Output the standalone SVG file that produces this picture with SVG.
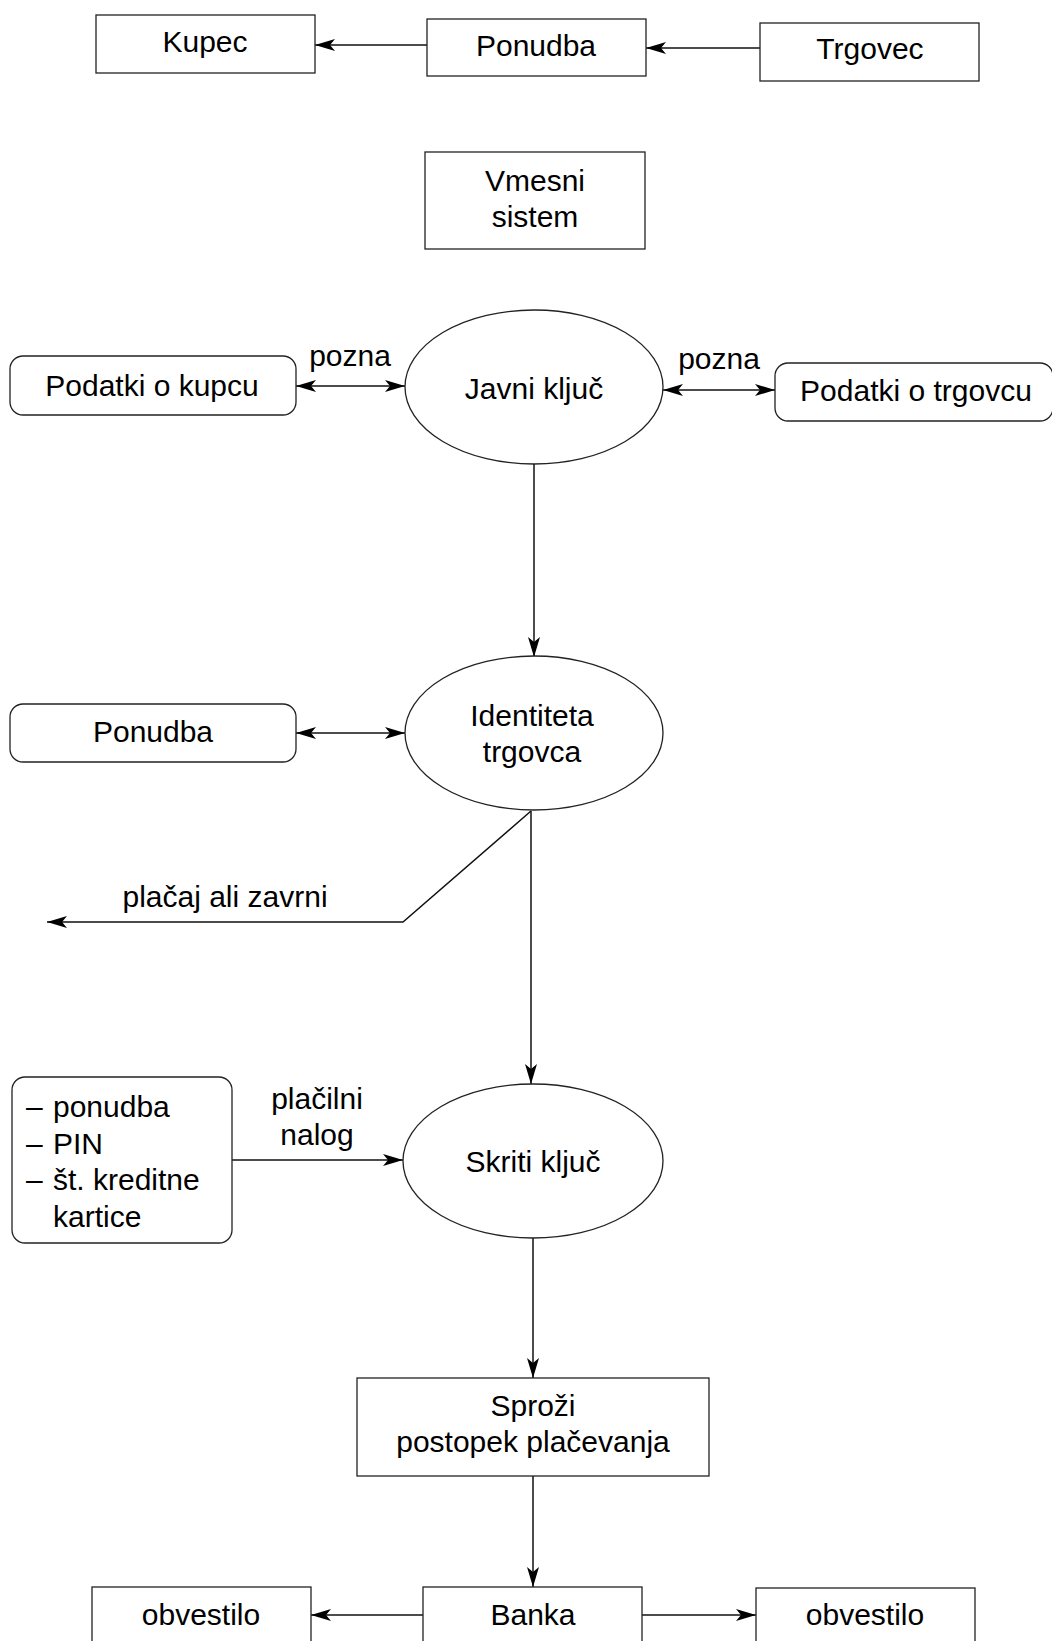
<svg xmlns="http://www.w3.org/2000/svg" width="1052" height="1641" viewBox="0 0 1052 1641">
<style>
.b{fill:#fff;stroke:#222;stroke-width:1.3}
.c{fill:none;stroke:#111;stroke-width:1.5}
text{font-family:"Liberation Sans",Arial,sans-serif;font-size:30px;fill:#000;text-anchor:middle}
.l{text-anchor:start}
</style>
<defs>
<marker id="a" viewBox="0 0 20 12" refX="20" refY="6" markerWidth="20" markerHeight="12" markerUnits="userSpaceOnUse" orient="auto-start-reverse">
<path d="M0,0 L20,6 L0,12 L5,6 z" fill="#000"/>
</marker>
</defs>
<rect width="1052" height="1641" fill="#fff"/>
<g id="connectors">
<line class="c" x1="427" y1="45" x2="315" y2="45" marker-end="url(#a)"/>
<line class="c" x1="760" y1="48" x2="646" y2="48" marker-end="url(#a)"/>
<line class="c" x1="296" y1="386" x2="405" y2="386" marker-start="url(#a)" marker-end="url(#a)"/>
<line class="c" x1="663" y1="390" x2="775" y2="390" marker-start="url(#a)" marker-end="url(#a)"/>
<line class="c" x1="534" y1="464" x2="534" y2="657" marker-end="url(#a)"/>
<line class="c" x1="296" y1="733" x2="405" y2="733" marker-start="url(#a)" marker-end="url(#a)"/>
<polyline class="c" points="531,811 403,922 47,922" marker-end="url(#a)"/>
<line class="c" x1="531" y1="811" x2="531" y2="1084" marker-end="url(#a)"/>
<line class="c" x1="232" y1="1160" x2="403" y2="1160" marker-end="url(#a)"/>
<line class="c" x1="533" y1="1238" x2="533" y2="1378" marker-end="url(#a)"/>
<line class="c" x1="533" y1="1476" x2="533" y2="1587" marker-end="url(#a)"/>
<line class="c" x1="423" y1="1615" x2="311" y2="1615" marker-end="url(#a)"/>
<line class="c" x1="642" y1="1615" x2="756" y2="1615" marker-end="url(#a)"/>
<text x="350" y="366">pozna</text>
<text x="719" y="369">pozna</text>
<text x="225" y="907">plačaj ali zavrni</text>
<text x="317" y="1109">plačilni</text>
<text x="317" y="1145">nalog</text>
</g>
<g id="kupec"><rect class="b" x="96" y="15" width="219" height="58"/><text x="205" y="52">Kupec</text></g>
<g id="ponudba-top"><rect class="b" x="427" y="19" width="219" height="57"/><text x="536" y="56">Ponudba</text></g>
<g id="trgovec"><rect class="b" x="760" y="23" width="219" height="58"/><text x="870" y="59">Trgovec</text></g>
<g id="vmesni"><rect class="b" x="425" y="152" width="220" height="97"/><text x="535" y="191">Vmesni</text><text x="535" y="227">sistem</text></g>
<g id="podatki-kupec"><rect class="b" x="10" y="356" width="286" height="59" rx="13"/><text x="152" y="396">Podatki o kupcu</text></g>
<g id="javni"><ellipse class="b" cx="534" cy="387" rx="129" ry="77"/><text x="534" y="399">Javni ključ</text></g>
<g id="podatki-trgovec"><rect class="b" x="775" y="363" width="278" height="58" rx="13"/><text x="916" y="401">Podatki o trgovcu</text></g>
<g id="ponudba-mid"><rect class="b" x="10" y="704" width="286" height="58" rx="13"/><text x="153" y="742">Ponudba</text></g>
<g id="identiteta"><ellipse class="b" cx="534" cy="733" rx="129" ry="77"/><text x="532" y="726">Identiteta</text><text x="532" y="762">trgovca</text></g>
<g id="podatki-placilo"><rect class="b" x="12" y="1077" width="220" height="166" rx="13"/>
<text class="l" y="1117"><tspan x="26">–</tspan><tspan x="53">ponudba</tspan></text>
<text class="l" y="1154"><tspan x="26">–</tspan><tspan x="53">PIN</tspan></text>
<text class="l" y="1190"><tspan x="26">–</tspan><tspan x="53">št. kreditne</tspan></text>
<text class="l" x="53" y="1227">kartice</text></g>
<g id="skriti"><ellipse class="b" cx="533" cy="1161" rx="130" ry="77"/><text x="533" y="1172">Skriti ključ</text></g>
<g id="sprozi"><rect class="b" x="357" y="1378" width="352" height="98"/><text x="533" y="1416">Sproži</text><text x="533" y="1452">postopek plačevanja</text></g>
<g id="obvestilo-l"><rect class="b" x="92" y="1587" width="219" height="70"/><text x="201" y="1625">obvestilo</text></g>
<g id="banka"><rect class="b" x="423" y="1587" width="219" height="70"/><text x="533" y="1625">Banka</text></g>
<g id="obvestilo-r"><rect class="b" x="756" y="1588" width="219" height="70"/><text x="865" y="1625">obvestilo</text></g>
</svg>
